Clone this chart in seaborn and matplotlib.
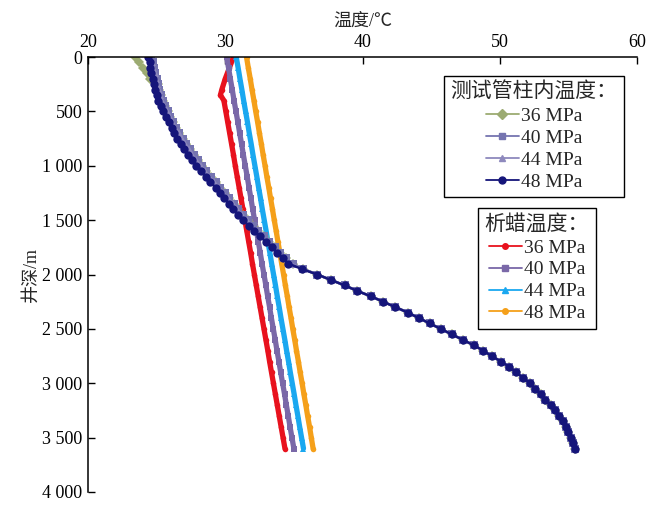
import matplotlib
matplotlib.use("Agg")
import matplotlib.pyplot as plt
from matplotlib.lines import Line2D
import numpy as np
import pandas as pd
import seaborn as sns

# ---------------- data ----------------
pressures = ["36 MPa", "40 MPa", "44 MPa", "48 MPa"]

depth_50 = list(range(0, 3601, 50))      # tubing series sampling (m)
depth_100 = list(range(0, 3601, 100))    # wax-appearance sampling (m)
depth_red = [0, 100, 200, 300, 350] + list(range(400, 3601, 100))

# temperature inside test string, 48 MPa (°C)
tubing_48 = [24.4, 24.5, 24.55, 24.6, 24.7, 24.8, 24.9, 25.0, 25.1, 25.3,
             25.5, 25.7, 25.9, 26.1, 26.3, 26.5, 26.8, 27.0, 27.3, 27.6,
             27.9, 28.2, 28.6, 28.9, 29.3, 29.6, 29.9, 30.3, 30.6, 30.95,
             31.3, 31.7, 32.1, 32.5, 33.0, 33.4, 33.8, 34.2, 34.6, 35.6,
             36.7, 37.7, 38.7, 39.6, 40.6, 41.5, 42.4, 43.3, 44.1, 44.9,
             45.7, 46.5, 47.3, 48.1, 48.8, 49.4, 50.1, 50.7, 51.2, 51.7,
             52.2, 52.6, 53.0, 53.3, 53.7, 54.0, 54.3, 54.6, 54.8, 55.0,
             55.2, 55.35, 55.45]
# upper part (0-2000 m) of the 40 / 44 MPa series; deeper they coincide with 48 MPa
tubing_40_upper = [24.6, 24.7, 24.8, 24.9, 25.0, 25.1, 25.2, 25.3, 25.45, 25.6,
                   25.8, 26.0, 26.2, 26.4, 26.65, 26.9, 27.15, 27.4, 27.7, 28.0,
                   28.3, 28.6, 28.95, 29.3, 29.65, 29.95, 30.3, 30.65, 30.95, 31.3,
                   31.65, 32.0, 32.4, 32.8, 33.2, 33.6, 34.0, 34.4, 34.9, 35.7,
                   36.7]
tubing_44_upper = [24.55, 24.65, 24.75, 24.85, 24.95, 25.05, 25.15, 25.25, 25.4, 25.55,
                   25.75, 25.95, 26.15, 26.35, 26.6, 26.85, 27.1, 27.35, 27.6, 27.9,
                   28.2, 28.5, 28.85, 29.2, 29.55, 29.85, 30.2, 30.55, 30.85, 31.2,
                   31.55, 31.9, 32.3, 32.7, 33.1, 33.5, 33.9, 34.3, 34.8, 35.65,
                   36.7]
# 36 MPa differs only in the first 200 m
tubing_36_upper = [23.4, 23.7, 24.0, 24.3, 24.55]

# wax appearance temperature (°C)
wax_36 = [30.6, 30.3, 30.0, 29.75, 29.65,
          29.9, 30.04, 30.18, 30.32, 30.46, 30.60, 30.73, 30.87, 31.01, 31.15,
          31.29, 31.43, 31.57, 31.71, 31.85, 31.98, 32.12, 32.26, 32.40, 32.54,
          32.68, 32.82, 32.96, 33.10, 33.23, 33.37, 33.51, 33.65, 33.79, 33.93,
          34.07, 34.21, 34.35]
wax_40 = [30.10, 30.24, 30.37, 30.51, 30.64, 30.78, 30.92, 31.05, 31.19, 31.32,
          31.46, 31.60, 31.73, 31.87, 32.00, 32.14, 32.28, 32.41, 32.55, 32.68,
          32.82, 32.96, 33.09, 33.23, 33.36, 33.50, 33.64, 33.77, 33.91, 34.04,
          34.18, 34.32, 34.45, 34.59, 34.72, 34.86, 35.00]
wax_44 = [30.80, 30.94, 31.07, 31.21, 31.34, 31.48, 31.62, 31.75, 31.89, 32.02,
          32.16, 32.30, 32.43, 32.57, 32.70, 32.84, 32.98, 33.11, 33.25, 33.38,
          33.52, 33.66, 33.79, 33.93, 34.06, 34.20, 34.34, 34.47, 34.61, 34.74,
          34.88, 35.02, 35.15, 35.29, 35.42, 35.56, 35.70]
wax_48 = [31.55, 31.68, 31.82, 31.95, 32.09, 32.22, 32.36, 32.49, 32.63, 32.76,
          32.90, 33.03, 33.17, 33.30, 33.44, 33.57, 33.71, 33.84, 33.98, 34.11,
          34.25, 34.38, 34.52, 34.65, 34.79, 34.92, 35.06, 35.19, 35.33, 35.46,
          35.60, 35.73, 35.87, 36.00, 36.14, 36.27, 36.40]

x_ticks = [20, 30, 40, 50, 60]
y_ticks = [0, 500, 1000, 1500, 2000, 2500, 3000, 3500, 4000]
y_tick_labels = ["0", "500", "1 000", "1 500", "2 000", "2 500", "3 000", "3 500", "4 000"]

# assembled series
tubing_40 = tubing_40_upper + tubing_48[len(tubing_40_upper):]
tubing_44 = tubing_44_upper + tubing_48[len(tubing_44_upper):]
tubing_36 = tubing_36_upper + tubing_40[len(tubing_36_upper):]

tubing_df = pd.DataFrame({
    "depth": depth_50 * 4,
    "temp": tubing_36 + tubing_40 + tubing_44 + tubing_48,
    "p": sum([[p] * len(depth_50) for p in pressures], []),
})
wax_df = pd.concat([
    pd.DataFrame({"depth": depth_red, "temp": wax_36, "p": pressures[0]}),
    pd.DataFrame({"depth": depth_100, "temp": wax_40, "p": pressures[1]}),
    pd.DataFrame({"depth": depth_100, "temp": wax_44, "p": pressures[2]}),
    pd.DataFrame({"depth": depth_100, "temp": wax_48, "p": pressures[3]}),
], ignore_index=True)

# ---------------- style ----------------
sns.set_style("white")
plt.rcParams["font.family"] = ["Liberation Serif", "Noto Sans CJK SC"]
plt.rcParams["axes.unicode_minus"] = False

tub_colors = ["#9cab72", "#7574b0", "#8e89bd", "#15157a"]
tub_markers = ["D", "s", "^", "o"]
tub_ms = [5, 5.5, 6, 6]
wax_colors = ["#e8121e", "#7a68a8", "#1aa8f0", "#f5a01a"]
wax_markers = ["o", "s", "^", "o"]

fig = plt.figure(figsize=(6.48, 5.09), dpi=100)
ax = fig.add_axes([88 / 648, 1 - 492 / 509, 549 / 648, 435 / 509])

# wax appearance lines
for p, c, m in zip(pressures, wax_colors, wax_markers):
    sub = wax_df[wax_df["p"] == p]
    sns.lineplot(data=sub, x="temp", y="depth", sort=False, estimator=None,
                 color=c, marker=m, markersize=4, markeredgewidth=0,
                 linewidth=3.8, ax=ax, legend=False)

# tubing temperature lines
for p, c, m, ms in zip(pressures, tub_colors, tub_markers, tub_ms):
    sub = tubing_df[tubing_df["p"] == p]
    sns.lineplot(data=sub, x="temp", y="depth", sort=False, estimator=None,
                 color=c, marker=m, markersize=ms, markeredgewidth=0,
                 linewidth=1.8, ax=ax, legend=False)

ax.set_xlim(20, 60)
ax.set_ylim(4000, 0)
ax.set_xticks(x_ticks)
ax.set_yticks(y_ticks)
ax.set_yticklabels(y_tick_labels)

ax.xaxis.tick_top()
ax.xaxis.set_label_position("top")
ax.set_xlabel("温度/℃", fontsize=13, labelpad=6)
ax.set_ylabel("井深/m", fontsize=13, labelpad=2)
ax.tick_params(axis="both", direction="in", length=5, width=1, colors="black",
               labelsize=13, pad=4)
ax.tick_params(axis="x", top=True, bottom=False)
ax.tick_params(axis="y", left=True, right=False)
for side in ["bottom", "right"]:
    ax.spines[side].set_visible(False)
for side in ["top", "left"]:
    ax.spines[side].set_color("black")
    ax.spines[side].set_linewidth(1.1)

# legends
tub_handles = [Line2D([], [], color=c, marker=m, markersize=5, lw=1.3)
               for c, m in zip(tub_colors, tub_markers)]
wax_handles = [Line2D([], [], color=c, marker=m, markersize=4, lw=1.3)
               for c, m in zip(wax_colors, wax_markers)]

leg_kw = dict(loc="upper left", fontsize=14, title_fontsize=15, frameon=True,
              fancybox=False, framealpha=1, edgecolor="black", handlelength=1.7,
              handletextpad=0.1, labelspacing=0.22, borderpad=0.35,
              alignment="center", borderaxespad=0)
leg1 = ax.legend(tub_handles, pressures, title="测试管柱内温度：",
                 bbox_to_anchor=(0.648, 0.956), **leg_kw)
leg1.get_frame().set_linewidth(1.0)
ax.add_artist(leg1)
leg2 = ax.legend(wax_handles, pressures, title="析蜡温度：",
                 bbox_to_anchor=(0.71, 0.653), **leg_kw)
leg2.get_frame().set_linewidth(1.0)

fig.savefig("out.png", dpi=100)
